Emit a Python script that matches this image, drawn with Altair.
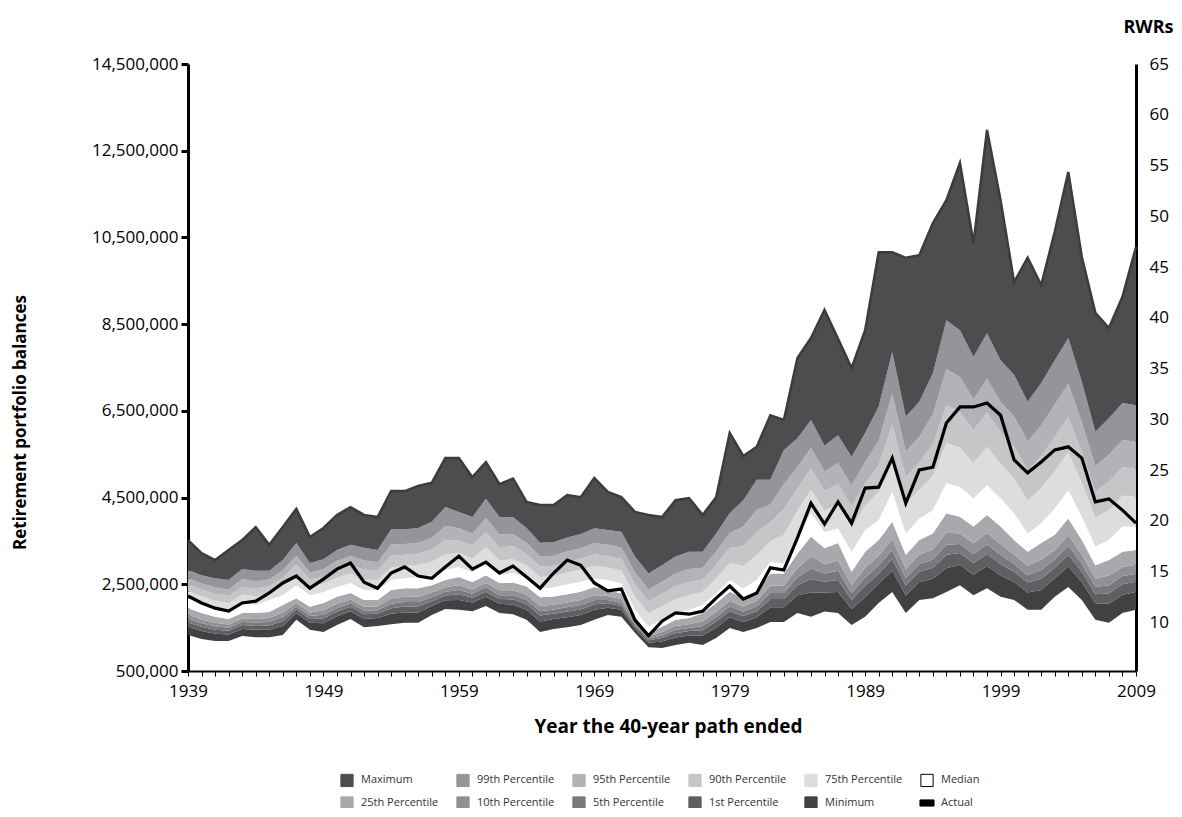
import altair as alt
import pandas as pd

years = list(range(1939, 2010))

# Band edges in millions of dollars (bottom to top)
lower_edge = [1.33,1.24,1.19,1.19,1.31,1.28,1.28,1.33,1.68,1.45, 1.40,1.56,1.70,1.51,1.54,1.58,1.61,1.61,1.79,1.93,
              1.91,1.88,2.00,1.84,1.81,1.68,1.40,1.47,1.51,1.56, 1.68,1.79,1.75,1.38,1.05,1.03,1.10,1.15,1.10,1.26,
              1.49,1.40,1.49,1.63,1.63,1.84,1.75,1.87,1.84,1.56, 1.75,2.07,2.32,1.84,2.14,2.18,2.32,2.48,2.25,2.41,
              2.21,2.14,1.91,1.91,2.21,2.44,2.14,1.68,1.61,1.84, 1.91]
top_minimum = [1.52,1.42,1.36,1.34,1.47,1.45,1.45,1.54,1.83,1.61, 1.60,1.76,1.88,1.70,1.72,1.82,1.85,1.85,2.00,2.13,
               2.14,2.08,2.21,2.05,2.03,1.91,1.64,1.70,1.74,1.79, 1.91,1.96,1.91,1.48,1.15,1.18,1.27,1.32,1.32,1.50,
               1.74,1.63,1.74,1.97,1.97,2.25,2.31,2.31,2.32,1.93, 2.20,2.51,2.81,2.24,2.55,2.63,2.87,2.95,2.72,2.92,
               2.70,2.55,2.31,2.37,2.64,2.91,2.55,2.06,2.05,2.26, 2.32]
top_p1 = [1.62,1.52,1.45,1.43,1.56,1.54,1.55,1.65,1.92,1.70, 1.71,1.87,1.98,1.81,1.82,1.95,1.99,1.99,2.11,2.24,
          2.27,2.19,2.33,2.16,2.15,2.04,1.78,1.82,1.87,1.92, 2.04,2.06,2.00,1.54,1.21,1.26,1.37,1.42,1.44,1.64,
          1.88,1.77,1.88,2.16,2.16,2.48,2.62,2.56,2.60,2.14, 2.46,2.75,3.08,2.47,2.79,2.88,3.18,3.22,2.99,3.20,
          2.97,2.79,2.54,2.63,2.88,3.18,2.79,2.27,2.29,2.50, 2.56]
top_p5 = [1.70,1.60,1.53,1.50,1.63,1.62,1.63,1.74,1.98,1.77, 1.80,1.95,2.06,1.89,1.90,2.05,2.09,2.09,2.20,2.33,
          2.37,2.28,2.43,2.25,2.25,2.14,1.88,1.92,1.97,2.02, 2.14,2.14,2.07,1.58,1.25,1.32,1.45,1.49,1.54,1.74,
          1.99,1.87,1.99,2.30,2.30,2.66,2.86,2.75,2.81,2.30, 2.65,2.94,3.29,2.64,2.97,3.07,3.41,3.43,3.20,3.42,
          3.18,2.97,2.71,2.83,3.07,3.39,2.97,2.44,2.48,2.69, 2.74]
top_p10 = [1.80,1.69,1.61,1.57,1.71,1.70,1.72,1.85,2.06,1.85, 1.90,2.05,2.15,1.98,1.99,2.17,2.21,2.21,2.31,2.43,
           2.48,2.38,2.53,2.36,2.36,2.26,2.00,2.03,2.08,2.14, 2.25,2.23,2.16,1.64,1.30,1.40,1.54,1.58,1.65,1.86,
           2.12,1.99,2.12,2.47,2.47,2.87,3.14,2.97,3.05,2.48, 2.88,3.16,3.54,2.85,3.18,3.30,3.69,3.67,3.44,3.68,
           3.43,3.18,2.92,3.07,3.28,3.63,3.18,2.63,2.70,2.90, 2.95]
top_p25 = [1.95,1.84,1.75,1.70,1.84,1.84,1.86,2.02,2.18,1.98, 2.07,2.21,2.30,2.14,2.14,2.37,2.41,2.41,2.48,2.60,
           2.67,2.55,2.71,2.53,2.54,2.45,2.20,2.22,2.27,2.33, 2.44,2.37,2.29,1.72,1.38,1.52,1.68,1.72,1.83,2.06,
           2.33,2.18,2.33,2.75,2.75,3.21,3.60,3.33,3.45,2.79, 3.25,3.52,3.94,3.18,3.52,3.67,4.14,4.06,3.83,4.10,
           3.83,3.52,3.25,3.45,3.64,4.02,3.52,2.94,3.06,3.25, 3.29]
top_median = [2.18,2.07,1.95,1.88,2.07,2.02,2.14,2.25,2.48,2.25, 2.32,2.44,2.53,2.37,2.37,2.60,2.64,2.67,2.71,2.83,
              2.90,2.78,2.99,2.71,2.76,2.65,2.40,2.43,2.50,2.56, 2.64,2.60,2.52,1.91,1.52,1.68,1.83,1.91,2.02,2.29,
              2.60,2.41,2.60,3.02,2.98,3.64,4.14,3.70,3.79,3.25, 3.75,3.98,4.64,3.67,4.02,4.21,4.83,4.75,4.48,4.79,
              4.48,4.14,3.67,3.91,4.25,4.67,4.06,3.37,3.52,3.83, 3.83]
top_p75 = [2.34,2.23,2.12,2.06,2.27,2.22,2.31,2.45,2.72,2.44, 2.51,2.65,2.75,2.61,2.60,2.89,2.92,2.95,3.02,3.19,
           3.22,3.10,3.36,3.05,3.08,2.94,2.67,2.69,2.77,2.84, 2.93,2.89,2.82,2.22,1.83,2.00,2.16,2.25,2.33,2.64,
           2.99,2.92,3.18,3.49,3.64,4.20,4.68,4.20,4.33,3.80, 4.31,4.64,5.45,4.35,4.69,5.00,5.77,5.65,5.30,5.67,
           5.28,4.94,4.43,4.72,5.11,5.55,4.84,4.03,4.22,4.54, 4.53]
top_p90 = [2.49,2.38,2.28,2.23,2.44,2.40,2.46,2.64,2.95,2.61, 2.68,2.85,2.95,2.84,2.81,3.16,3.18,3.21,3.30,3.53,
           3.51,3.39,3.70,3.35,3.38,3.20,2.91,2.93,3.02,3.09, 3.19,3.15,3.09,2.50,2.11,2.28,2.46,2.55,2.61,2.95,
           3.34,3.38,3.71,3.93,4.24,4.71,5.17,4.66,4.82,4.30, 4.83,5.24,6.19,4.97,5.31,5.73,6.63,6.48,6.05,6.47,
           6.01,5.67,5.13,5.46,5.89,6.35,5.55,4.64,4.87,5.20, 5.17]
top_p95 = [2.64,2.52,2.43,2.38,2.62,2.57,2.61,2.82,3.16,2.77, 2.85,3.04,3.15,3.05,3.01,3.42,3.43,3.46,3.57,3.85,
           3.79,3.67,4.03,3.65,3.66,3.46,3.14,3.16,3.26,3.33, 3.45,3.41,3.35,2.77,2.38,2.56,2.75,2.85,2.88,3.26,
           3.68,3.83,4.22,4.34,4.81,5.20,5.65,5.10,5.30,4.78, 5.32,5.81,6.89,5.56,5.90,6.42,7.46,7.28,6.77,7.24,
           6.71,6.37,5.80,6.17,6.64,7.13,6.24,5.23,5.49,5.83, 5.79]
top_p99 = [2.83,2.71,2.64,2.60,2.85,2.81,2.81,3.06,3.45,2.99, 3.08,3.29,3.41,3.34,3.29,3.77,3.77,3.80,3.94,4.28,
           4.17,4.05,4.47,4.05,4.05,3.80,3.46,3.47,3.58,3.66, 3.79,3.75,3.71,3.14,2.75,2.94,3.14,3.25,3.25,3.67,
           4.14,4.44,4.91,4.91,5.60,5.87,6.29,5.70,5.94,5.44, 5.99,6.60,7.86,6.37,6.71,7.37,8.59,8.36,7.75,8.29,
           7.67,7.33,6.71,7.14,7.67,8.18,7.17,6.02,6.33,6.68, 6.63]
top_maximum = [3.52,3.22,3.06,3.29,3.52,3.82,3.41,3.82,4.24,3.59, 3.80,4.10,4.28,4.10,4.05,4.65,4.65,4.77,4.84,5.41,
               5.41,4.97,5.32,4.81,4.94,4.40,4.33,4.33,4.56,4.51, 4.95,4.63,4.51,4.17,4.10,4.05,4.44,4.49,4.10,4.51,
               5.99,5.46,5.67,6.40,6.29,7.72,8.18,8.83,8.16,7.49, 8.36,10.16,10.16,10.03,10.09,10.83,11.36,12.22,10.37,12.98,
               11.36,9.47,10.03,9.40,10.63,12.01,10.05,8.76,8.41,9.13, 10.28]
actual = [2.23,2.07,1.95,1.88,2.07,2.11,2.30,2.53,2.69,2.41, 2.62,2.85,2.99,2.55,2.41,2.76,2.90,2.69,2.64,2.90,
          3.15,2.85,3.01,2.76,2.92,2.67,2.41,2.76,3.06,2.94, 2.53,2.35,2.39,1.68,1.31,1.65,1.84,1.81,1.88,2.18,
          2.46,2.16,2.30,2.88,2.83,3.57,4.37,3.89,4.40,3.91, 4.72,4.74,5.41,4.37,5.14,5.20,6.22,6.59,6.59,6.68,
          6.40,5.37,5.07,5.32,5.60,5.67,5.41,4.40,4.47,4.21, 3.91]

band_names = ["Minimum", "1st Percentile", "5th Percentile", "10th Percentile", "25th Percentile", "Median",
              "75th Percentile", "90th Percentile", "95th Percentile", "99th Percentile", "Maximum"]
band_tops = [top_minimum, top_p1, top_p5, top_p10, top_p25, top_median,
             top_p75, top_p90, top_p95, top_p99, top_maximum]
legend_order = ["Maximum", "99th Percentile", "95th Percentile", "90th Percentile", "75th Percentile", "Median",
                "25th Percentile", "10th Percentile", "5th Percentile", "1st Percentile", "Minimum", "Actual"]
colors = {"Maximum": "#4d4d4f", "99th Percentile": "#939598", "95th Percentile": "#b1b3b6",
          "90th Percentile": "#c5c6c8", "75th Percentile": "#dcddde", "Median": "#ffffff",
          "25th Percentile": "#a7a9ac", "10th Percentile": "#8f9194", "5th Percentile": "#78797c",
          "1st Percentile": "#5e5f61", "Minimum": "#414042", "Actual": "#000000"}
strokes = dict(colors)
strokes["Median"] = "#000000"

rows = []
bottoms = [lower_edge] + band_tops[:-1]
for name, lo_arr, hi_arr in zip(band_names, bottoms, band_tops):
    for yr, lo, hi in zip(years, lo_arr, hi_arr):
        rows.append({"year": yr, "band": name, "lo": lo * 1e6, "hi": hi * 1e6})
bands = pd.DataFrame(rows)
lines = pd.DataFrame({"year": years, "maximum": [v * 1e6 for v in top_maximum],
                      "actual": [v * 1e6 for v in actual]})
leg = pd.DataFrame({"year": [1939] * len(legend_order), "band": legend_order,
                    "value": [-5e6] * len(legend_order)})
rwr = pd.DataFrame({"year": [2009, 2009], "rwr": [10, 65]})

FONT = "Open Sans"
xenc = alt.X("year:Q", scale=alt.Scale(domain=[1939, 2009], nice=False, zero=False),
             axis=alt.Axis(values=years, labelExpr="(datum.value - 1939) % 10 == 0 ? datum.value : ''",
                           labelOverlap=False, labelFlush=False, tickSize=5, tickWidth=1, tickColor="#000",
                           domainColor="#000", domainWidth=2, labelFont=FONT, labelFontSize=17,
                           labelColor="#000", labelPadding=7, grid=False, title="Year the 40-year path ended",
                           titleFont=FONT, titleFontSize=19, titleFontWeight="bold", titleColor="#000",
                           titleX=480, titleY=46))
yscale = alt.Scale(domain=[500000, 14500000], nice=False, zero=False)
yaxis = alt.Axis(values=list(range(500000, 14500001, 2000000)), format=",d", tickSize=7, tickWidth=3,
                 tickColor="#000", domainColor="#000", domainWidth=3, labelFont=FONT, labelFontSize=17,
                 labelColor="#000", labelPadding=3, grid=False, title="Retirement portfolio balances",
                 titleFont=FONT, titleFontSize=17, titleFontWeight="bold", titleColor="#000",
                 titleX=-168, titleY=358, titleBaseline="middle")
cscale = alt.Scale(domain=legend_order, range=[colors[k] for k in legend_order])
sscale = alt.Scale(domain=legend_order, range=[strokes[k] for k in legend_order])
shscale = alt.Scale(domain=legend_order, range=["square"] * 11 + ["M-1.15,-0.5H1.15V0.5H-1.15Z"])
lg = alt.Legend(orient="none", direction="horizontal", legendX=152, legendY=709, columns=6, title=None,
                labelFont=FONT, labelFontSize=11, labelColor="#333", symbolSize=150, symbolStrokeWidth=1,
                columnPadding=14, rowPadding=5, labelOffset=7, gridAlign="all")

area = alt.Chart(bands).mark_area(interpolate="linear").encode(
    x=xenc, y=alt.Y("lo:Q", scale=yscale, axis=yaxis), y2="hi:Q",
    color=alt.Color("band:N", scale=cscale, legend=lg))
maxline = alt.Chart(lines).mark_line(color="#3c3c3e", strokeWidth=2.5).encode(
    x=xenc, y=alt.Y("maximum:Q", scale=yscale, axis=yaxis))
actline = alt.Chart(lines).mark_line(color="#000000", strokeWidth=3.2).encode(
    x=xenc, y=alt.Y("actual:Q", scale=yscale, axis=yaxis))
legpts = alt.Chart(leg).mark_point(filled=True, clip=True, opacity=1).encode(
    x=xenc, y=alt.Y("value:Q", scale=yscale, axis=yaxis),
    color=alt.Color("band:N", scale=cscale, legend=lg),
    stroke=alt.Stroke("band:N", scale=sscale, legend=lg),
    shape=alt.Shape("band:N", scale=shscale, legend=lg))
left = alt.layer(area, maxline, actline, legpts)
right = alt.Chart(rwr).mark_point(opacity=0).encode(
    x=xenc,
    y=alt.Y("rwr:Q", scale=alt.Scale(domain=[5.2, 65], nice=False, zero=False),
            axis=alt.Axis(orient="right", values=list(range(10, 66, 5)), format="d", ticks=False,
                          domainColor="#000", domainWidth=3, labelFont=FONT, labelFontSize=17,
                          labelColor="#000", labelPadding=13, grid=False, title="RWRs", titleFont=FONT,
                          titleFontSize=18, titleFontWeight="bold", titleColor="#000", titleAngle=0,
                          titleX=12, titleY=-37, titleAlign="center", titleBaseline="middle")))

chart = alt.layer(left, right).resolve_scale(y="independent").properties(
    width=948, height=607, autosize=alt.AutoSizeParams(type="none"),
    padding={"left": 180, "top": 56, "right": 38, "bottom": 137}, background="white"
).configure_view(stroke=None)

chart.save("out.html", embed_options={"renderer": "svg", "actions": False})
